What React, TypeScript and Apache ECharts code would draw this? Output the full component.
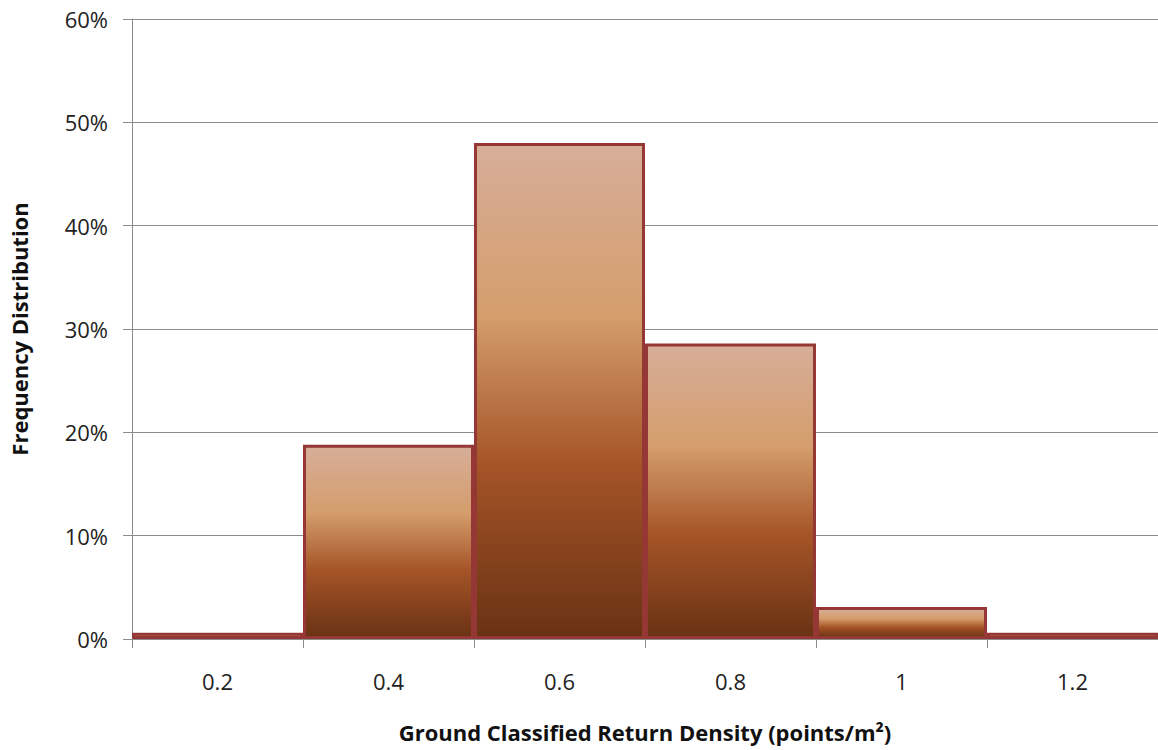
import React, { useEffect, useRef } from "react";
import * as echarts from "echarts";

const categories = ["0.2", "0.4", "0.6", "0.8", "1", "1.2"];
const frequency = [0.6, 18.8, 48.0, 28.6, 3.1, 0.6];
const yTicks = [0, 10, 20, 30, 40, 50, 60];

export default function App() {
  const ref = useRef<HTMLDivElement>(null);
  useEffect(() => {
    document.body.style.margin = "0";
    if (!ref.current) return;
    const chart = echarts.init(ref.current, null, { renderer: "svg" });
    const gradient = new echarts.graphic.LinearGradient(0, 0, 0, 1, [
      { offset: 0, color: "#d7ae99" },
      { offset: 0.35, color: "#d49d6b" },
      { offset: 0.65, color: "#a55427" },
      { offset: 1, color: "#693214" },
    ]);
    chart.setOption({
      animation: false,
      grid: { left: 127, width: 1031, top: 19, height: 620, containLabel: false },
      xAxis: {
        type: "category",
        data: categories,
        boundaryGap: true,
        name: "Ground Classified Return Density (points/m²)",
        nameLocation: "middle",
        nameGap: 82,
        nameTextStyle: { fontFamily: "Open Sans", fontWeight: "bold", fontSize: 22, color: "#111" },
        axisLine: { show: true, lineStyle: { color: "#8c8c8c", width: 1 } },
        axisTick: { show: true, alignWithLabel: false, length: 9, lineStyle: { color: "#8c8c8c" } },
        axisLabel: { fontFamily: "Open Sans", fontSize: 22, color: "#222", margin: 31 },
      },
      yAxis: {
        type: "value",
        min: 0,
        max: 60,
        interval: 10,
        name: "Frequency Distribution",
        nameLocation: "middle",
        nameGap: 102,
        nameTextStyle: { fontFamily: "Open Sans", fontWeight: "bold", fontSize: 22, color: "#111" },
        axisLine: { show: true, lineStyle: { color: "#8c8c8c", width: 1 } },
        axisTick: { show: true, length: 9, lineStyle: { color: "#8c8c8c" } },
        axisLabel: {
          fontFamily: "Open Sans",
          fontSize: 22,
          color: "#222",
          margin: 24,
          formatter: (v: number) => (yTicks.includes(v) ? v + "%" : ""),
        },
        splitLine: { show: true, lineStyle: { color: "#8c8c8c", width: 1 } },
      },
      series: [
        {
          type: "bar",
          data: frequency,
          barCategoryGap: "0%",
          itemStyle: { color: gradient, borderColor: "#953735", borderWidth: 3 },
        },
      ],
    });
    return () => chart.dispose();
  }, []);
  return (
    <div
      ref={ref}
      style={{ position: "fixed", left: 0, top: 0, width: 1158, height: 750, background: "#fff" }}
    />
  );
}
